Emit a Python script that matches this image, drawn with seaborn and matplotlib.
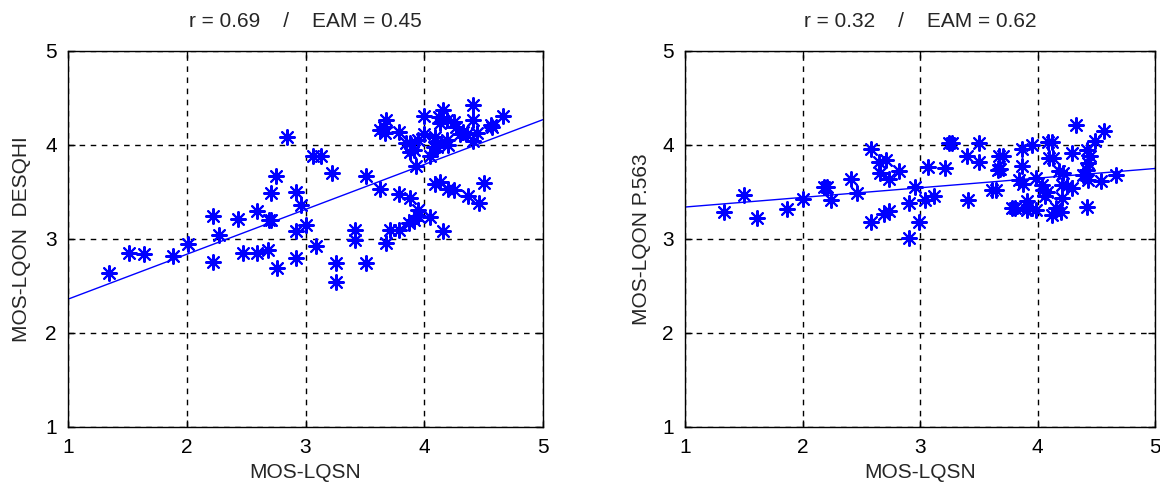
import numpy as np
import matplotlib
matplotlib.use("Agg")
import matplotlib.pyplot as plt
import seaborn as sns

# ---- data ----
left_x = [1.345, 1.51, 1.64, 1.88, 2.01, 2.22, 2.27, 2.22, 2.43, 2.47, 2.59, 2.59, 2.68, 2.69, 2.71,
          2.71, 2.75, 2.76, 2.84, 2.92, 2.92, 2.92, 2.96, 3.00, 3.06, 3.13, 3.22, 3.09, 3.26, 3.26,
          3.42, 3.42, 3.51, 3.51, 3.63, 3.68, 3.71, 3.79, 3.79, 3.88, 3.87, 3.91, 3.95, 3.95, 4.05,
          4.16, 4.09, 4.13, 4.20, 4.25, 4.37, 4.46, 4.50, 3.63, 3.68, 3.67, 3.66, 3.79, 3.85, 3.88,
          3.88, 3.91, 3.93, 3.95, 4.00, 4.00, 4.05, 4.08, 4.11, 4.09, 4.12, 4.13, 4.16, 4.19, 4.20,
          4.25, 4.27, 4.30, 4.33, 4.36, 4.41, 4.41, 4.41, 4.44, 4.56, 4.57, 4.66, 4.19]
left_y = [2.64, 2.85, 2.84, 2.82, 2.95, 3.24, 3.04, 2.76, 3.21, 2.85, 2.85, 3.30, 2.88, 3.20, 3.20,
          3.49, 3.67, 2.69, 4.08, 3.50, 3.09, 2.80, 3.36, 3.15, 3.88, 3.88, 3.70, 2.93, 2.75, 2.54,
          3.10, 2.99, 3.67, 2.75, 3.53, 2.96, 3.10, 3.10, 3.48, 3.44, 3.17, 3.20, 3.31, 3.24, 3.23,
          3.08, 3.59, 3.61, 3.53, 3.52, 3.46, 3.38, 3.60, 4.16, 4.27, 4.13, 4.19, 4.14, 4.02, 4.02,
          3.93, 3.95, 3.78, 4.05, 4.31, 4.12, 3.88, 3.98, 3.98, 4.09, 4.30, 4.23, 4.37, 4.27, 4.00,
          4.25, 4.19, 4.12, 4.14, 4.12, 4.43, 4.27, 4.04, 4.13, 4.21, 4.19, 4.31, 4.05]

right_x = [1.33, 1.50, 1.61, 1.87, 2.00, 2.18, 2.21, 2.24, 2.41, 2.46, 2.58, 2.58, 2.65, 2.71, 2.66,
           2.74, 2.82, 2.69, 2.74, 2.91, 2.91, 2.96, 2.99, 3.04, 3.07, 3.12, 3.21, 3.25, 3.27, 3.40,
           3.50, 3.50, 3.41, 3.61, 3.65, 3.66, 3.68, 3.67, 3.71, 3.78, 3.81, 3.87, 3.87, 3.84, 3.88,
           3.91, 3.92, 3.91, 3.95, 3.99, 3.99, 4.04, 4.05, 4.08, 4.06, 4.09, 4.12, 4.10, 4.13, 4.12,
           4.16, 4.20, 4.18, 4.22, 4.21, 4.25, 4.21, 4.29, 4.29, 4.33, 4.39, 4.42, 4.43, 4.45, 4.43,
           4.42, 4.42, 4.49, 4.54, 4.57, 4.67]
right_y = [3.29, 3.47, 3.22, 3.32, 3.43, 3.55, 3.55, 3.41, 3.64, 3.49, 3.96, 3.18, 3.82, 3.84, 3.70,
           3.64, 3.72, 3.27, 3.30, 3.38, 3.01, 3.55, 3.18, 3.41, 3.77, 3.46, 3.76, 4.02, 4.02, 3.88,
           4.02, 3.82, 3.42, 3.52, 3.52, 3.73, 3.75, 3.88, 3.88, 3.33, 3.33, 3.96, 3.78, 3.63, 3.59,
           3.40, 3.34, 3.31, 4.00, 3.31, 3.65, 3.57, 3.52, 3.50, 3.46, 4.03, 4.03, 3.86, 3.86, 3.26,
           3.33, 3.29, 3.72, 3.70, 3.57, 3.56, 3.44, 3.54, 3.92, 4.21, 3.68, 3.73, 3.81, 3.88, 3.63,
           3.95, 3.34, 4.04, 3.62, 4.15, 3.68]

fit_x = [1, 5]
left_fit_y = [2.36, 4.27]
right_fit_y = [3.34, 3.75]

ticks = [1, 2, 3, 4, 5]
titles = ["r = 0.69    /    EAM = 0.45", "r = 0.32    /    EAM = 0.62"]
xlabel = "MOS-LQSN"
ylabels = ["MOS-LQON  DESQHI", "MOS-LQON P.563"]

# ---- style ----
sns.set_style("white")
plt.rcParams["font.family"] = ["Liberation Sans", "DejaVu Sans"]
plt.rcParams["font.size"] = 15

fig = plt.figure(figsize=(11.6, 4.87), dpi=100)
ax1 = fig.add_axes([68 / 1160, 60 / 487, 475 / 1160, 376 / 487])
ax2 = fig.add_axes([685 / 1160, 60 / 487, 470 / 1160, 376 / 487])

panels = [(ax1, left_x, left_y, left_fit_y), (ax2, right_x, right_y, right_fit_y)]
for i, (ax, xs, ys, fy) in enumerate(panels):
    sns.lineplot(x=fit_x, y=fy, ax=ax, color="blue", linewidth=1.0, zorder=2)
    sns.scatterplot(x=xs, y=ys, ax=ax, marker=(8, 2, 0), color="blue", s=115,
                    linewidth=1.5, zorder=3)
    ax.set_xlim(1, 5)
    ax.set_ylim(1, 5)
    ax.set_xticks(ticks)
    ax.set_yticks(ticks)
    ax.set_xticklabels([str(t) for t in ticks])
    ax.set_yticklabels([str(t) for t in ticks])
    ax.grid(True, color="black", linestyle=(0, (4, 4)), linewidth=1.0)
    ax.set_axisbelow(True)
    ax.tick_params(direction="in", length=5, width=1, top=True, right=True,
                   bottom=True, left=True, labelsize=15, pad=8, colors="black")
    for sp in ax.spines.values():
        sp.set_color("black")
        sp.set_linewidth(1.0)
        sp.set_visible(True)
    ax.set_title(titles[i], fontsize=15, pad=17)
    ax.set_xlabel(xlabel, fontsize=15, labelpad=4)
    ax.set_ylabel(ylabels[i], fontsize=15, labelpad=10 if i == 0 else 8)

fig.savefig("out.png", dpi=100, facecolor="white")
